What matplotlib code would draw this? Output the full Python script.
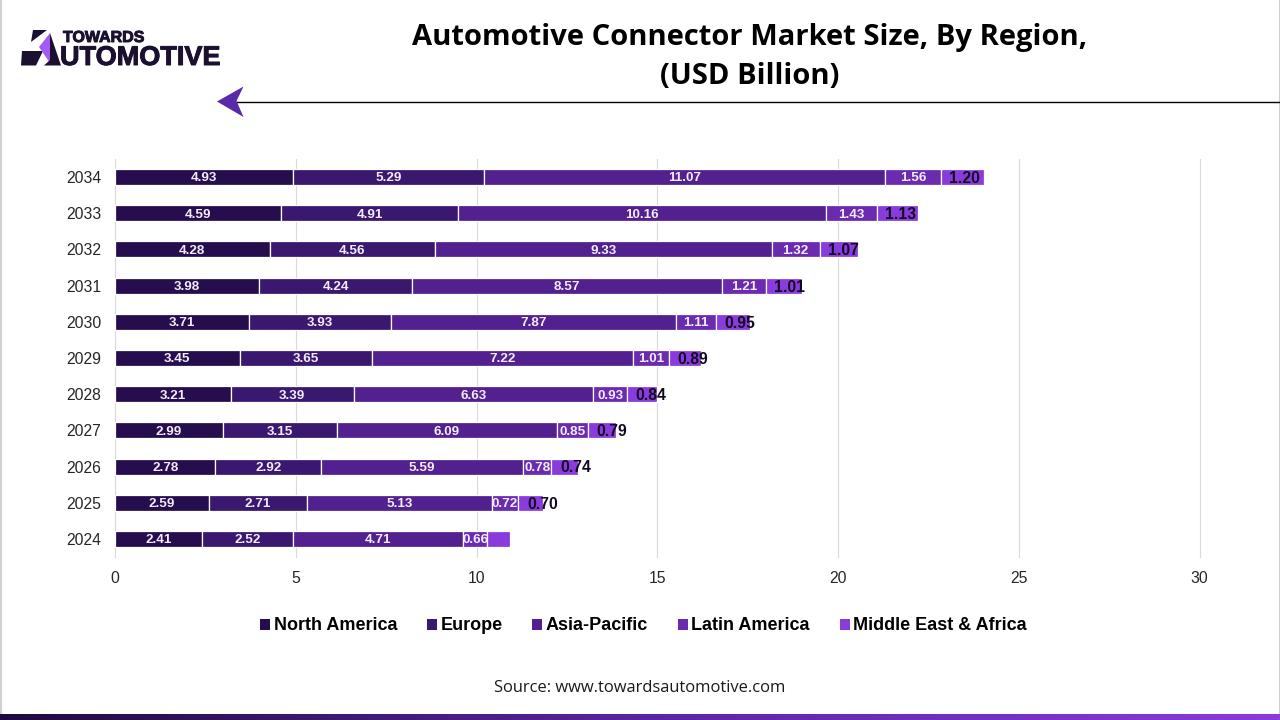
import numpy as np
import matplotlib
matplotlib.use('Agg')
import matplotlib.pyplot as plt
import matplotlib.patheffects as pe
from matplotlib.colors import LinearSegmentedColormap
from matplotlib.patches import Polygon

years = ['2024', '2025', '2026', '2027', '2028', '2029', '2030', '2031', '2032', '2033', '2034']
regions = ['North America', 'Europe', 'Asia-Pacific', 'Latin America', 'Middle East & Africa']
north_america = [2.41, 2.59, 2.78, 2.99, 3.21, 3.45, 3.71, 3.98, 4.28, 4.59, 4.93]
europe = [2.52, 2.71, 2.92, 3.15, 3.39, 3.65, 3.93, 4.24, 4.56, 4.91, 5.29]
asia_pacific = [4.71, 5.13, 5.59, 6.09, 6.63, 7.22, 7.87, 8.57, 9.33, 10.16, 11.07]
latin_america = [0.66, 0.72, 0.78, 0.85, 0.93, 1.01, 1.11, 1.21, 1.32, 1.43, 1.56]
mea = [0.63, 0.70, 0.74, 0.79, 0.84, 0.89, 0.95, 1.01, 1.07, 1.13, 1.20]
colors = ['#260d4d', '#3b1870', '#53208f', '#6a2bb0', '#8a3bdc']

W, H = 1280, 720
plt.rcParams['font.family'] = ['Liberation Sans', 'DejaVu Sans']
fig = plt.figure(figsize=(12.8, 7.2), dpi=100)

# full figure overlay in pixel coordinates (y down) for header and footer bits
bg = fig.add_axes([0, 0, 1, 1])
bg.axis('off')
bg.plot([0.5, 0.5], [0, 714], color='#d0d0d0', lw=1.5)
bg.plot([1279.5, 1279.5], [0, 714], color='#d0d0d0', lw=1.5)
bg.plot([237, 1280], [101.5, 101.5], color='black', lw=1)
bg.add_patch(Polygon([[217, 101.5], [243.5, 86.5], [236.5, 101], [243.5, 117]], facecolor='#5b2aa8', lw=0))

# logo
logo_dark = '#1c1030'
bg.add_patch(Polygon([[33, 30], [47, 30], [31, 42]], facecolor=logo_dark, lw=0))
bg.add_patch(Polygon([[22, 51], [43, 51], [36, 65.5], [21, 65.5]], facecolor=logo_dark, lw=0))
bg.add_patch(Polygon([[50, 33], [39, 47], [50, 63]], facecolor='#a45cf0', lw=0))
bg.add_patch(Polygon([[50, 33], [61, 65.5], [44, 65.5], [50, 60]], facecolor=logo_dark, lw=0))
stroke = [pe.withStroke(linewidth=0.7, foreground=logo_dark)]
bg.text(63, 37.5, 'TOWARDS', fontsize=11.5, fontweight='bold', color=logo_dark, va='center', ha='left',
        path_effects=stroke)
bg.text(60, 58, 'UTOMOTIVE', fontsize=19.5, fontweight='bold', color=logo_dark, va='center', ha='left',
        path_effects=stroke)

title_font = ['Open Sans', 'DejaVu Sans']
bg.text(749.5, 38, 'Automotive Connector Market Size, By Region,', fontsize=21, fontweight='bold',
        family=title_font, ha='center', va='center', color='black')
bg.text(749.5, 76, '(USD Billion)', fontsize=21, fontweight='bold',
        family=title_font, ha='center', va='center', color='black')
bg.text(640, 688, 'Source: www.towardsautomotive.com', fontsize=11.9, family=title_font,
        ha='center', va='center', color='#1a1a1a')

# bottom band
band = np.linspace(0, 1, 256).reshape(1, -1)
cmap = LinearSegmentedColormap.from_list('band', ['#1f0a40', '#5a25a0', '#8a3bdc'])
bg.imshow(band, extent=[0, W, 720, 714], aspect='auto', cmap=cmap, zorder=2)
bg.set_xlim(0, W)
bg.set_ylim(H, 0)

# chart
ax = fig.add_axes([115 / W, 1 - 557 / H, (1199.5 - 115) / W, (557 - 159) / H])
ax.patch.set_alpha(0)
series = [north_america, europe, asia_pacific, latin_america, mea]
left = np.zeros(len(years))
y = np.arange(len(years))
for i, vals in enumerate(series):
    ax.barh(y, vals, left=left, height=0.44, color=colors[i], edgecolor='white', linewidth=0.9,
            label=regions[i], zorder=3)
    for j, v in enumerate(vals):
        cx = left[j] + v / 2
        if i < 4:
            ax.annotate(f'{v:.2f}', (cx, j), xytext=(0, -1), textcoords='offset points', ha='center',
                        va='center', color='#f2ecf8', fontsize=9.7, fontweight='bold', zorder=4)
        elif j > 0:
            # the last series labels sit a bit right of centre on the short bars
            ax.annotate(f'{v:.2f}', (cx, j), xytext=((1.2 - v) * 15 + 1, -1), textcoords='offset points',
                        ha='center', va='center', color='#120822', fontsize=11.3, fontweight='bold', zorder=4)
    left = left + np.array(vals)

ax.set_xlim(0, 30)
ax.set_ylim(-0.5, len(years) - 0.5)
ax.set_yticks(y)
ax.set_yticklabels(years)
ax.set_xticks([0, 5, 10, 15, 20, 25, 30])
ax.grid(axis='x', color='#d9d9d9', lw=0.8, zorder=0, clip_on=False)
ax.set_axisbelow(True)
ax.tick_params(length=0, labelsize=11.3, labelcolor='#262626')
ax.tick_params(axis='x', pad=10)
ax.tick_params(axis='y', pad=10)
for s in ax.spines.values():
    s.set_visible(False)

leg = fig.legend(loc='center', bbox_to_anchor=(643.5 / W, 1 - 626 / H), ncol=5, frameon=False,
                 prop={'size': 13, 'weight': 'bold', 'family': ['Liberation Sans', 'DejaVu Sans']},
                 handlelength=0.55, handleheight=0.55, handletextpad=0.2, columnspacing=1.65)
for h in leg.legend_handles:
    h.set_linewidth(0)

fig.savefig('out.png', dpi=100)
